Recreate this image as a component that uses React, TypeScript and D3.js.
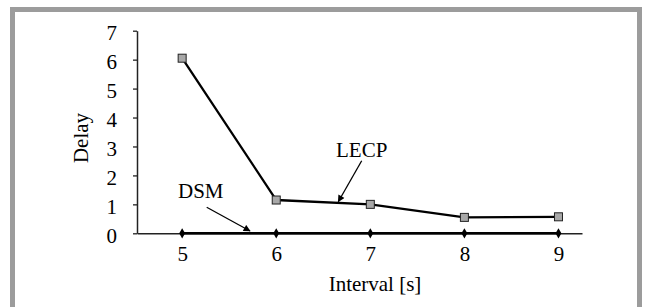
import React, { useRef, useEffect } from 'react';
import * as d3 from 'd3';

const intervals = [5, 6, 7, 8, 9];
const lecpDelay = [6.05, 1.15, 1.0, 0.55, 0.57];
const dsmDelay = [0, 0, 0, 0, 0];
const yTicks = [0, 1, 2, 3, 4, 5, 6, 7];

const FONT = '"Liberation Serif", "Times New Roman", serif';

const App = () => {
  const chartRef = useRef<SVGSVGElement>(null);

  useEffect(() => {
    const svg = d3.select(chartRef.current);
    svg.selectAll('*').remove();

    // frame
    svg.append('rect')
      .attr('x', 12.5).attr('y', 9.5)
      .attr('width', 627).attr('height', 320)
      .attr('fill', 'white')
      .attr('stroke', '#9c9c9c')
      .attr('stroke-width', 5);

    const defs = svg.append('defs');
    defs.append('marker')
      .attr('id', 'arrow')
      .attr('viewBox', '0 0 10 10')
      .attr('refX', 9).attr('refY', 5)
      .attr('markerWidth', 9).attr('markerHeight', 7)
      .attr('markerUnits', 'userSpaceOnUse')
      .attr('orient', 'auto')
      .append('path')
      .attr('d', 'M0,0 L10,5 L0,10 z')
      .attr('fill', '#000');

    const x = d3.scaleLinear().domain([4.52, 9.25]).range([137, 582]);
    const y = d3.scaleLinear().domain([0, 7]).range([233.3, 30.7]);

    // y axis
    const yAxis = svg.append('g')
      .attr('transform', 'translate(137,0)')
      .call(d3.axisLeft(y).tickValues(yTicks).tickSize(4).tickSizeOuter(0).tickPadding(16).tickFormat(d3.format('d')));
    yAxis.select('.domain').attr('stroke', '#222').attr('stroke-width', 1.5);
    yAxis.selectAll('.tick line').attr('stroke', '#222').attr('stroke-width', 1.3);
    yAxis.selectAll('.tick text')
      .attr('font-family', FONT).attr('font-size', 21).attr('fill', '#000')
      .attr('dy', '0.42em');

    // x axis
    const xAxis = svg.append('g')
      .attr('transform', `translate(0,${y(0)})`)
      .call(d3.axisBottom(x).tickValues(intervals).tickSize(0).tickSizeOuter(0).tickPadding(13).tickFormat(d3.format('d')));
    xAxis.select('.domain').attr('stroke', '#222').attr('stroke-width', 1.5);
    xAxis.selectAll('.tick text')
      .attr('font-family', FONT).attr('font-size', 21).attr('fill', '#000');

    // axis titles
    svg.append('text')
      .attr('x', 375).attr('y', 291)
      .attr('text-anchor', 'middle')
      .attr('font-family', FONT).attr('font-size', 21)
      .text('Interval [s]');
    svg.append('text')
      .attr('transform', 'translate(88,138) rotate(-90)')
      .attr('text-anchor', 'middle')
      .attr('font-family', FONT).attr('font-size', 21)
      .text('Delay');

    const line = d3.line<number>()
      .x((_, i) => x(intervals[i]))
      .y(d => y(d));

    // DSM series
    svg.append('path')
      .datum(dsmDelay)
      .attr('d', line)
      .attr('fill', 'none')
      .attr('stroke', '#000')
      .attr('stroke-width', 2.5);
    svg.selectAll('.dsm')
      .data(dsmDelay)
      .enter()
      .append('path')
      .attr('class', 'dsm')
      .attr('transform', (d, i) => `translate(${x(intervals[i])},${y(d)})`)
      .attr('d', d3.symbol().type(d3.symbolDiamond).size(30))
      .attr('fill', '#000');

    // LECP series
    svg.append('path')
      .datum(lecpDelay)
      .attr('d', line)
      .attr('fill', 'none')
      .attr('stroke', '#000')
      .attr('stroke-width', 2.3);
    svg.selectAll('.lecp')
      .data(lecpDelay)
      .enter()
      .append('rect')
      .attr('class', 'lecp')
      .attr('x', (d, i) => x(intervals[i]) - 4)
      .attr('y', d => y(d) - 4)
      .attr('width', 8).attr('height', 8)
      .attr('fill', '#a8a8a8')
      .attr('stroke', '#222')
      .attr('stroke-width', 1);

    // series labels with arrows
    svg.append('text')
      .attr('x', 178).attr('y', 198)
      .attr('font-family', FONT).attr('font-size', 21)
      .text('DSM');
    svg.append('line')
      .attr('x1', 206.7).attr('y1', 207.3)
      .attr('x2', 250).attr('y2', 231)
      .attr('stroke', '#000').attr('stroke-width', 1.3)
      .attr('marker-end', 'url(#arrow)');

    svg.append('text')
      .attr('x', 336).attr('y', 157)
      .attr('font-family', FONT).attr('font-size', 21)
      .text('LECP');
    svg.append('line')
      .attr('x1', 361.7).attr('y1', 160.7)
      .attr('x2', 338.3).attr('y2', 201.7)
      .attr('stroke', '#000').attr('stroke-width', 1.3)
      .attr('marker-end', 'url(#arrow)');
  }, []);

  return (
    <svg
      ref={chartRef}
      width={647}
      height={307}
      style={{ position: 'absolute', left: 0, top: 0, background: 'white' }}
    />
  );
};

export default App;
